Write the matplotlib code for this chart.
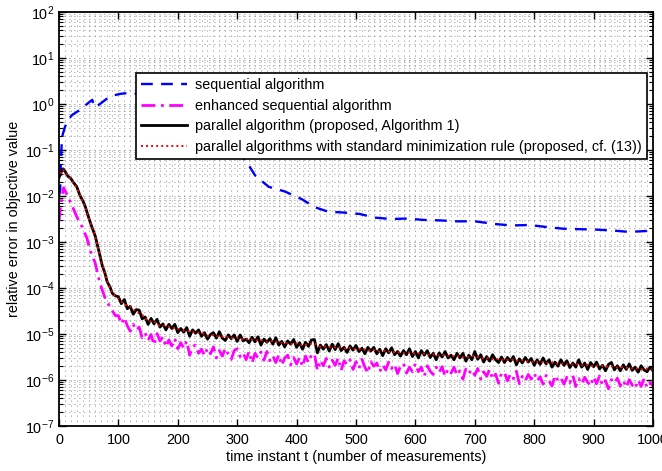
import numpy as np
import matplotlib
matplotlib.use("Agg")
import matplotlib.pyplot as plt
from matplotlib.ticker import LogLocator, MultipleLocator, NullFormatter

plt.rcParams['font.family'] = ['Liberation Sans', 'DejaVu Sans']
plt.rcParams['mathtext.default'] = 'regular'

# values are read as log10(relative error)
# sequential algorithm (blue dashed)
seq_t = [0, 2, 3, 5, 10, 15, 22, 35, 49, 56, 60, 69, 86, 103, 116, 150, 200, 250, 290,
         316, 330, 353, 380, 409, 430, 453, 480, 506, 532, 559, 586, 614, 641, 669, 700,
         735, 762, 792, 818, 848, 875, 904, 932, 960, 990, 1000]
seq_exp = [-2.0, -1.87, -1.33, -0.72, -0.5, -0.35, -0.24, -0.13, 0.02, 0.09, -0.07, 0.0,
           0.17, 0.22, 0.24, 0.2, 0.0, -0.4, -0.9, -1.26, -1.55, -1.8, -1.9, -2.07, -2.24,
           -2.34, -2.36, -2.39, -2.47, -2.5, -2.49, -2.52, -2.53, -2.55, -2.55, -2.61, -2.64,
           -2.63, -2.67, -2.71, -2.72, -2.73, -2.75, -2.78, -2.76, -2.76]

# enhanced sequential algorithm (magenta dash-dot)
enh_t_early = [0, 3, 6, 8, 10, 12, 16, 20, 25, 30, 35, 39, 43, 47, 52, 56, 61, 65, 69, 73,
               77, 81, 86, 90, 95]
enh_exp_early = [-2.55, -2.2, -1.95, -1.82, -1.88, -1.93, -2.05, -2.15, -2.3, -2.45, -2.58,
                 -2.67, -2.8, -2.91, -3.17, -3.3, -3.46, -3.68, -3.9, -4.05, -4.2, -4.3,
                 -4.41, -4.5, -4.6]
enh_exp_late = [
    -4.60, -4.78, -4.64, -4.82, -4.94, -4.79, -4.92, -4.85, -5.08, -4.98,
    -5.14, -5.01, -5.24, -4.99, -5.15, -5.06, -5.28, -5.13, -5.26, -5.10,
    -5.32, -5.19, -5.31, -5.15, -5.46, -5.27, -5.24, -5.42, -5.33, -5.47,
    -5.31, -5.43, -5.28, -5.52, -5.36, -5.48, -5.31, -5.44, -5.55, -5.36,
    -5.32, -5.49, -5.41, -5.56, -5.38, -5.63, -5.42, -5.52, -5.39, -5.57,
    -5.38, -5.58, -5.47, -5.62, -5.45, -5.68, -5.52, -5.46, -5.67, -5.51,
    -5.65, -5.51, -5.71, -5.48, -5.62, -5.45, -5.43, -5.79, -5.57, -5.69,
    -5.53, -5.72, -5.57, -5.68, -5.52, -5.79, -5.58, -5.67, -5.56, -5.77,
    -5.60, -5.75, -5.55, -5.72, -5.85, -5.60, -5.70, -5.63, -5.82, -5.67,
    -5.78, -5.61, -5.75, -5.66, -5.86, -5.70, -5.64, -5.85, -5.72, -5.82,
    -5.64, -5.82, -5.72, -5.92, -5.69, -5.81, -5.88, -5.72, -5.84, -5.71,
    -5.92, -5.76, -5.85, -5.72, -5.90, -5.80, -5.98, -5.76, -5.86, -5.77,
    -5.90, -5.75, -5.98, -5.82, -5.92, -5.77, -5.98, -5.87, -6.07, -5.85,
    -5.83, -6.02, -5.87, -5.97, -5.81, -6.08, -5.92, -6.02, -5.88, -5.98,
    -5.85, -6.02, -5.93, -6.09, -5.90, -6.02, -6.13, -5.90, -6.01, -5.95,
    -6.09, -5.94, -6.06, -5.90, -6.14, -5.97, -6.09, -5.94, -6.05, -6.13,
    -5.93, -6.08, -5.91, -6.12, -6.01, -6.19, -5.99, -6.07, -5.96, -6.13,
    -6.01, -6.16, -5.99, -6.11, -6.19, -6.00, -6.14, -5.97, -6.16, -6.05, -6.13]

# parallel algorithm (black solid)
par_t_early = [0, 3, 7, 10, 15, 20, 24, 30, 35, 40, 44, 49, 55, 61, 65, 69, 73, 77, 81,
               86, 90, 95]
par_exp_early = [-1.6, -1.5, -1.41, -1.46, -1.57, -1.62, -1.70, -1.80, -1.98, -2.10, -2.22,
                 -2.43, -2.66, -2.87, -3.08, -3.30, -3.52, -3.66, -3.86, -3.98, -4.12, -4.17]
par_exp_late = [
    -4.19, -4.34, -4.25, -4.45, -4.40, -4.57, -4.47, -4.48, -4.67, -4.63,
    -4.79, -4.66, -4.78, -4.68, -4.85, -4.78, -4.91, -4.79, -4.88, -4.79,
    -4.97, -4.88, -4.96, -4.86, -5.05, -4.91, -4.98, -4.91, -5.05, -4.97,
    -5.11, -5.01, -4.97, -5.09, -4.95, -5.09, -5.14, -5.02, -5.10, -5.02,
    -5.16, -5.02, -5.15, -5.11, -5.19, -5.07, -5.17, -5.06, -5.24, -5.11,
    -5.18, -5.10, -5.22, -5.08, -5.24, -5.16, -5.28, -5.15, -5.22, -5.12,
    -5.29, -5.19, -5.33, -5.18, -5.27, -5.13, -5.12, -5.41, -5.24, -5.33,
    -5.23, -5.37, -5.22, -5.34, -5.21, -5.36, -5.29, -5.40, -5.26, -5.35,
    -5.25, -5.38, -5.31, -5.43, -5.29, -5.37, -5.29, -5.43, -5.33, -5.47,
    -5.32, -5.41, -5.30, -5.45, -5.38, -5.48, -5.36, -5.45, -5.32, -5.49,
    -5.38, -5.52, -5.36, -5.46, -5.36, -5.51, -5.42, -5.56, -5.41, -5.50,
    -5.38, -5.52, -5.46, -5.56, -5.42, -5.52, -5.42, -5.59, -5.46, -5.56,
    -5.38, -5.55, -5.45, -5.61, -5.49, -5.59, -5.45, -5.56, -5.62, -5.50,
    -5.62, -5.51, -5.59, -5.49, -5.67, -5.54, -5.63, -5.51, -5.61, -5.53,
    -5.68, -5.56, -5.66, -5.52, -5.65, -5.56, -5.72, -5.61, -5.70, -5.56,
    -5.68, -5.58, -5.73, -5.63, -5.72, -5.56, -5.72, -5.63, -5.77, -5.62,
    -5.71, -5.61, -5.76, -5.68, -5.80, -5.66, -5.62, -5.78, -5.69, -5.80,
    -5.67, -5.77, -5.65, -5.79, -5.72, -5.83, -5.69, -5.78, -5.82, -5.72, -5.80]

# parallel algorithm with standard minimization rule (red dotted)
std_exp_early = [-1.62, -1.5, -1.42, -1.47, -1.56, -1.63, -1.71, -1.82, -1.97, -2.11,
                 -2.23, -2.44, -2.65, -2.88, -3.09, -3.31, -3.51, -3.67, -3.85, -3.99,
                 -4.11, -4.18]
std_exp_late = [
    -4.23, -4.36, -4.40, -4.52, -4.58, -4.72, -4.73, -4.82, -4.81, -4.87,
    -4.89, -4.93, -4.93, -4.97, -4.97, -5.04, -5.02, -5.06, -5.05, -5.09,
    -5.08, -5.12, -5.10, -5.14, -5.13, -5.17, -5.15, -5.19, -5.19, -5.22,
    -5.20, -5.25, -5.22, -5.20, -5.28, -5.27, -5.30, -5.28, -5.32, -5.30,
    -5.34, -5.32, -5.36, -5.34, -5.38, -5.36, -5.40, -5.39, -5.42, -5.40,
    -5.43, -5.41, -5.45, -5.44, -5.47, -5.45, -5.49, -5.47, -5.51, -5.49,
    -5.47, -5.53, -5.52, -5.55, -5.54, -5.57, -5.55, -5.58, -5.57, -5.60,
    -5.61, -5.60, -5.63, -5.62, -5.65, -5.64, -5.67, -5.65, -5.68, -5.67,
    -5.70, -5.68, -5.71, -5.70, -5.73, -5.72, -5.75, -5.74, -5.77, -5.75, -5.78]

labels = ['sequential algorithm',
          'enhanced sequential algorithm',
          'parallel algorithm (proposed, Algorithm 1)',
          'parallel algorithms with standard minimization rule (proposed, cf. (13))']

t5 = np.arange(100, 1001, 5)
t10 = np.arange(100, 1001, 10)

enh_t = np.concatenate([enh_t_early, t5])
enh_y = 10.0 ** np.array(enh_exp_early + enh_exp_late)
par_t = np.concatenate([par_t_early, t5])
par_y = 10.0 ** np.array(par_exp_early + par_exp_late)
std_t = np.concatenate([par_t_early, t10])
std_y = 10.0 ** np.array(std_exp_early + std_exp_late)
seq_y = 10.0 ** np.array(seq_exp)

fs = 10.4

fig = plt.figure(figsize=(6.62, 4.71), dpi=100)
ax = fig.add_axes([0.0891, 0.0955, 0.8973, 0.879])

ax.plot(seq_t, seq_y, color='#0000ff', ls=(0, (5, 3.5)), lw=1.7, label=labels[0])
ax.plot(enh_t, enh_y, color='#ff00ff', ls=(0, (5, 2, 1, 2)), lw=2.0, label=labels[1])
ax.plot(par_t, par_y, color='black', ls='-', lw=2.0, label=labels[2])
ax.plot(std_t, std_y, color='#ff0000', ls=(0, (1, 1.6)), lw=1.4, label=labels[3])

ax.set_yscale('log')
ax.set_xlim(0, 1000)
ax.set_ylim(1e-7, 1e2)
ax.xaxis.set_major_locator(MultipleLocator(100))
ax.xaxis.set_minor_locator(MultipleLocator(10))
ax.yaxis.set_major_locator(LogLocator(base=10, numticks=20))
ax.yaxis.set_minor_locator(LogLocator(base=10, subs=np.arange(2, 10), numticks=100))
ax.yaxis.set_minor_formatter(NullFormatter())

ax.grid(True, which='major', color='0.3', ls=(0, (1, 5)), lw=0.6)
ax.grid(True, which='minor', color='0.4', ls=(0, (1, 5)), lw=0.6)
ax.set_axisbelow(True)

ax.tick_params(which='both', direction='in', top=True, right=True, labelsize=fs)
ax.tick_params(axis='y', which='major', length=5, width=1)
ax.tick_params(axis='y', which='minor', length=3, width=0.8)
ax.tick_params(axis='x', which='major', length=5, width=1, pad=5)
ax.tick_params(axis='x', which='minor', length=0)
for s in ax.spines.values():
    s.set_linewidth(1.3)

ax.set_xlabel('time instant t (number of measurements)', fontsize=fs, labelpad=2)
ax.set_ylabel('relative error in objective value', fontsize=fs, labelpad=3)

leg = ax.legend(loc='upper right', bbox_to_anchor=(0.99, 0.852), borderaxespad=0,
                fontsize=fs, fancybox=False, framealpha=1, edgecolor='black',
                handlelength=3.2, labelspacing=0.45, borderpad=0.35, handletextpad=0.55)
leg.get_frame().set_linewidth(1.2)

fig.savefig('out.png', dpi=100)
